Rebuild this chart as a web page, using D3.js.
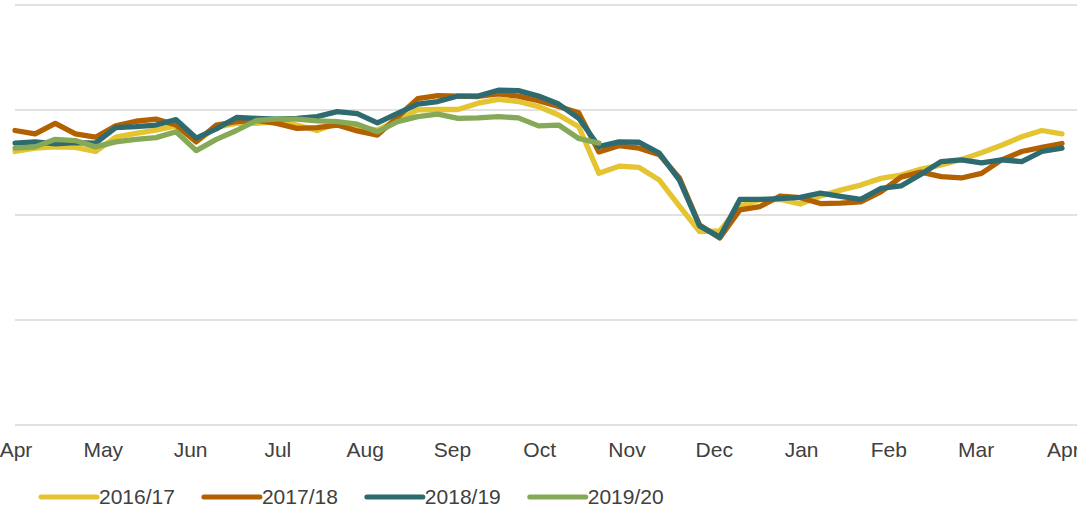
<!DOCTYPE html>
<html>
<head>
<meta charset="utf-8">
<script src="https://cdn.jsdelivr.net/npm/d3@7"></script>
<style>
  body { margin: 0; background: #fff; }
  svg { display: block; font-family: "Liberation Sans", Arial, sans-serif; }
  .axisText { font-size: 21px; fill: #404040; }
</style>
</head>
<body>
<div class="chart"></div>
<script>
// month labels along the bottom
var months = ["Apr", "May", "Jun", "Jul", "Aug", "Sep", "Oct", "Nov", "Dec", "Jan", "Feb", "Mar", "Apr"];

var seasons = ["2016/17", "2017/18", "2018/19", "2019/20"];
var colors = ["#e5c431", "#b36000", "#2e6b71", "#85a956"];

// weekly values, week 0 = start of April
var s2016 = [65.0, 65.8, 66.1, 66.0, 65.0, 68.4, 69.3, 70.1, 71.1, 67.3, 70.8, 71.7, 71.7, 72.1, 71.3, 70.0, 71.7, 70.8, 70.1, 72.5,
  74.9, 75.0, 75.0, 76.5, 77.4, 76.9, 75.7, 73.7, 70.9, 59.8, 61.5, 61.2, 58.2, 52.0, 45.9, 46.1, 52.0, 53.5, 53.6, 52.5,
  54.4, 55.8, 57.0, 58.6, 59.4, 60.8, 61.8, 63.1, 64.7, 66.5, 68.5, 70.0, 69.2];
var s2017 = [70.0, 69.2, 71.7, 69.2, 68.4, 71.1, 72.2, 72.7, 71.3, 67.3, 71.3, 72.1, 72.4, 71.7, 70.5, 70.7, 71.3, 69.9, 68.9, 73.2,
  77.6, 78.3, 78.2, 78.1, 78.7, 78.2, 77.1, 75.7, 74.2, 64.9, 66.4, 65.8, 64.2, 58.7, 47.5, 44.4, 51.1, 51.9, 54.4, 54.0,
  52.6, 52.7, 53.0, 55.4, 58.9, 60.1, 59.0, 58.7, 59.8, 63.0, 65.0, 66.0, 66.9];
var s2018 = [67.0, 67.3, 66.8, 67.1, 67.0, 70.7, 70.9, 71.3, 72.6, 68.2, 70.4, 73.1, 72.9, 72.7, 72.9, 73.3, 74.5, 74.0, 71.8, 74.1,
  76.3, 76.9, 78.2, 78.2, 79.6, 79.5, 78.2, 76.3, 72.9, 66.2, 67.3, 67.2, 64.6, 58.2, 47.3, 44.6, 53.6, 53.6, 53.8, 54.1,
  55.1, 54.3, 53.6, 56.2, 56.8, 59.6, 62.6, 63.0, 62.3, 63.0, 62.6, 65.0, 65.8];
var s2019 = [65.8, 66.1, 67.9, 67.6, 66.1, 67.3, 67.9, 68.3, 69.7, 65.2, 67.9, 70.0, 72.4, 72.7, 72.7, 72.3, 72.1, 71.5, 69.7, 72.1,
  73.3, 73.9, 72.9, 73.0, 73.3, 73.0, 71.1, 71.3, 68.1, 67.0];

var allSeries = [s2016, s2017, s2018, s2019];

var svgWidth = 1077;
var svgHeight = 512;

var svg = d3.select(".chart")
  .append("svg")
  .attr("width", svgWidth)
  .attr("height", svgHeight);

var xScale = d3.scaleLinear()
  .domain([0, 52])
  .range([15, 1062]);

var yScale = d3.scaleLinear()
  .domain([0, 100])
  .range([424.5, 4.5]);

// horizontal gridlines
var leftAxis = d3.axisLeft(yScale)
  .tickValues([0, 25, 50, 75, 100])
  .tickSize(-(svgWidth - 15))
  .tickFormat("");

var grid = svg.append("g")
  .attr("transform", "translate(15, 0)")
  .call(leftAxis);
grid.select(".domain").remove();
grid.selectAll(".tick line")
  .attr("stroke", "#d9d9d9")
  .attr("stroke-width", 1.4);

// month labels
var weeksPerMonth = 4.335;
svg.append("g").selectAll("text")
  .data(months)
  .enter()
  .append("text")
  .attr("class", "axisText")
  .attr("x", (d, i) => xScale(0.05 + i * weeksPerMonth))
  .attr("y", 457)
  .attr("text-anchor", "middle")
  .text(d => d);

var line = d3.line()
  .x((d, i) => xScale(i))
  .y(d => yScale(d));

svg.append("g").selectAll("path")
  .data(allSeries)
  .enter()
  .append("path")
  .attr("d", d => line(d))
  .attr("fill", "none")
  .attr("stroke", (d, i) => colors[i])
  .attr("stroke-width", 5.3)
  .attr("stroke-linejoin", "round")
  .attr("stroke-linecap", "round");

// legend
var legend = svg.append("g");
var lx = 41;
seasons.forEach(function (name, i) {
  legend.append("line")
    .attr("x1", lx)
    .attr("x2", lx + 56)
    .attr("y1", 497)
    .attr("y2", 497)
    .attr("stroke", colors[i])
    .attr("stroke-width", 5)
    .attr("stroke-linecap", "round");
  var t = legend.append("text")
    .attr("class", "axisText")
    .attr("x", lx + 58)
    .attr("y", 504)
    .text(name);
  lx = lx + 58 + t.node().getComputedTextLength() + 29;
});
</script>
</body>
</html>
